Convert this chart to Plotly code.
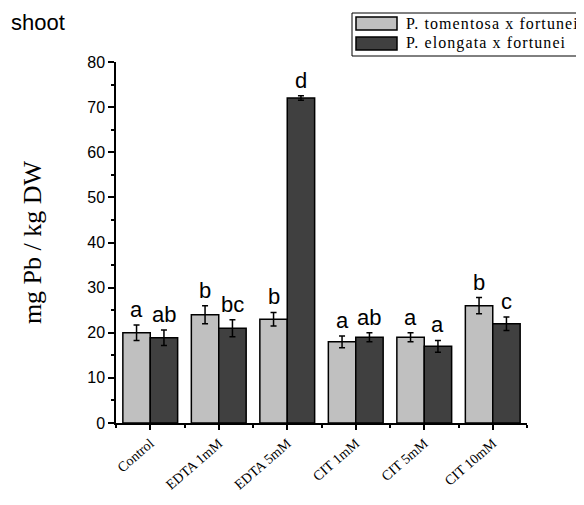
import plotly.graph_objects as go

categories = ["Control", "EDTA 1mM", "EDTA 5mM", "CIT 1mM", "CIT 5mM", "CIT 10mM"]
tomentosa = [20, 24, 23, 18, 19, 26]
tomentosa_err = [1.7, 2.0, 1.5, 1.3, 1.0, 1.8]
tomentosa_letters = ["a", "b", "b", "a", "a", "b"]
elongata = [18.9, 21, 72, 19, 17, 22]
elongata_err = [1.7, 1.9, 0.5, 1.0, 1.3, 1.5]
elongata_letters = ["ab", "bc", "d", "ab", "a", "c"]
series_names = ["P. tomentosa x fortunei", "P. elongata x fortunei"]
colors = ["#c0c0c0", "#404040"]

# page body has an 8px margin, so the figure is drawn 8px smaller and shifted
OFF = 8
W, H = 584 - OFF, 505 - OFF
L, T = 116 - OFF, 62 - OFF
B = H - (423 - OFF)
R = W - (527 - OFF)
PW, PH = W - L - R, H - T - B


def px(x):
    return (x - OFF - L) / PW


def py(y):
    return (H - B - (y - OFF)) / PH


xs = list(range(len(categories)))

fig = go.Figure()
for name, vals, errs, col in [(series_names[0], tomentosa, tomentosa_err, colors[0]),
                              (series_names[1], elongata, elongata_err, colors[1])]:
    fig.add_trace(go.Bar(
        x=xs, y=vals, name=name, showlegend=False,
        marker=dict(color=col, line=dict(color="black", width=1.5)),
        error_y=dict(type="data", array=errs, color="black", thickness=1.5, width=3),
    ))

off = 0.2
letter_font = dict(family="Liberation Sans, Arial", size=22, color="black")
for i in xs:
    fig.add_annotation(x=i - off, y=tomentosa[i] + tomentosa_err[i], text=tomentosa_letters[i],
                       showarrow=False, yanchor="bottom", yshift=1, font=letter_font)
    fig.add_annotation(x=i + off, y=elongata[i] + elongata_err[i], text=elongata_letters[i],
                       showarrow=False, yanchor="bottom", yshift=1, font=letter_font)

fig.add_annotation(x=px(9), y=py(23), xref="paper", yref="paper", text="shoot", showarrow=False,
                   xanchor="left", yanchor="middle",
                   font=dict(family="Liberation Sans, Arial", size=22, color="black"))

# manual legend
shapes = [dict(type="rect", xref="paper", yref="paper", x0=px(352), x1=px(600), y0=py(56), y1=py(13),
               line=dict(color="black", width=1), fillcolor="white", layer="above")]
leg_font = dict(family="Liberation Serif, Times New Roman", size=16, color="black")
for k, (name, col) in enumerate(zip(series_names, colors)):
    top = 17 + k * 20
    shapes.append(dict(type="rect", xref="paper", yref="paper", x0=px(356), x1=px(397),
                       y0=py(top + 13), y1=py(top), line=dict(color="black", width=1.5),
                       fillcolor=col, layer="above"))
    fig.add_annotation(x=px(404), y=py(top + 6.5), xref="paper", yref="paper",
                       text='<span style="letter-spacing:1.1px">' + name + '</span>',
                       showarrow=False, xanchor="left", yanchor="middle", font=leg_font)

fig.update_layout(
    width=W, height=H,
    margin=dict(l=L, r=R, t=T, b=B),
    paper_bgcolor="white", plot_bgcolor="white",
    barmode="group", bargap=0.2, bargroupgap=0,
    showlegend=False,
    shapes=shapes,
    xaxis=dict(range=[-0.5, 5.5], tickvals=xs, ticktext=categories, tickangle=-41,
               automargin=False,
               showline=True, linecolor="black", linewidth=1.5, showgrid=False, zeroline=False,
               ticks="outside", ticklen=5, tickcolor="black", tickwidth=1.5,
               ticklabelstandoff=0,
               tickfont=dict(family="Liberation Serif, Times New Roman", size=14, color="black"),
               minor=dict(tick0=-0.5, dtick=1, ticks="outside", ticklen=3, tickcolor="black", tickwidth=1.5)),
    yaxis=dict(range=[0, 80], tickvals=[0, 10, 20, 30, 40, 50, 60, 70, 80],
               automargin=False,
               showline=True, linecolor="black", linewidth=1.5, showgrid=False, zeroline=False,
               ticks="outside", ticklen=6, tickcolor="black", tickwidth=1.5,
               tickfont=dict(family="Liberation Sans, Arial", size=16, color="black"),
               minor=dict(tick0=5, dtick=10, ticks="outside", ticklen=3, tickcolor="black", tickwidth=1.5),
               title=dict(text="mg Pb / kg DW", standoff=38,
                          font=dict(family="Liberation Serif, Times New Roman", size=26, color="black"))),
)

fig.write_html("out.html")
